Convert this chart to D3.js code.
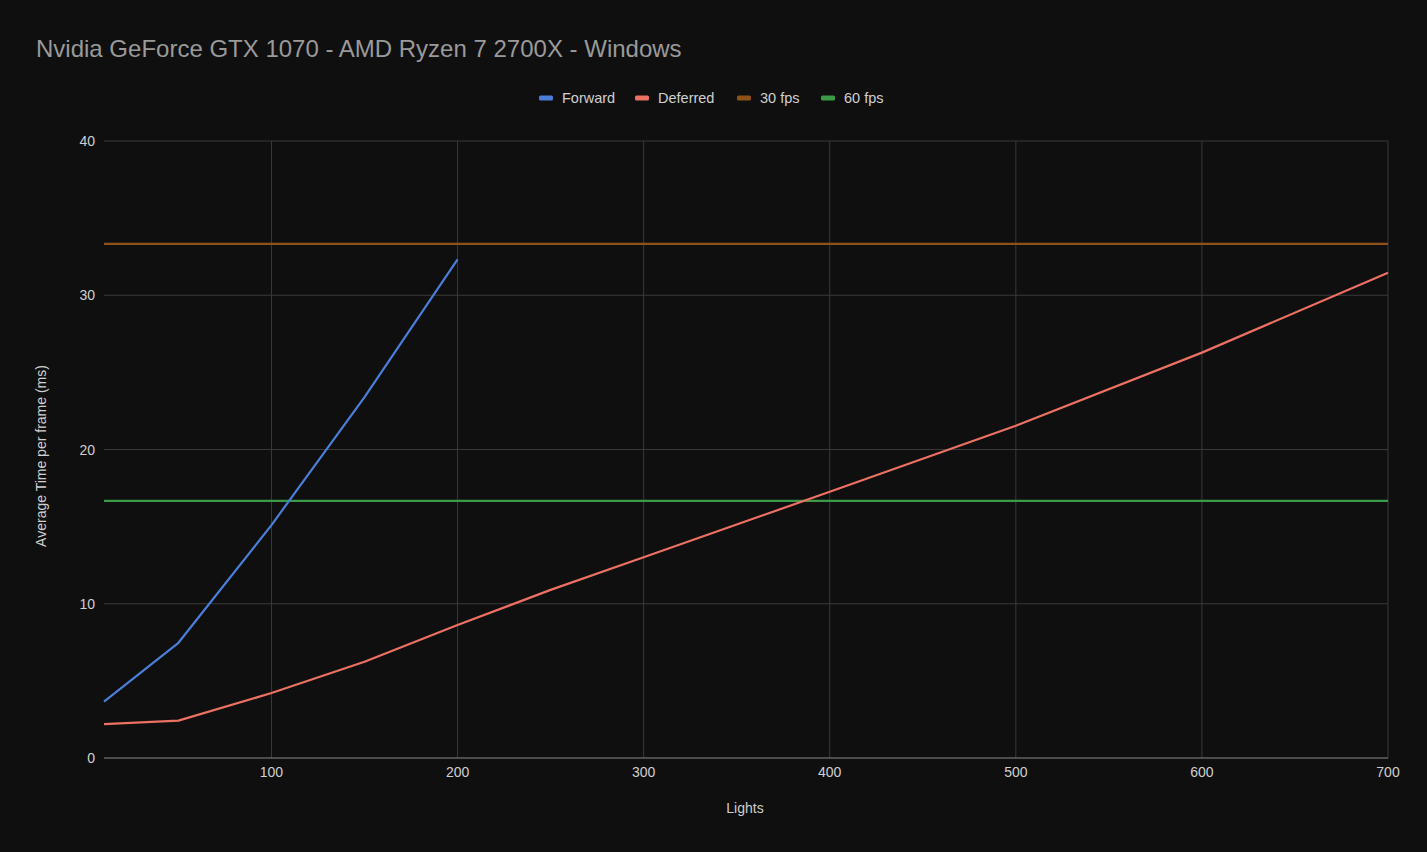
<!DOCTYPE html>
<html>
<head>
<meta charset="utf-8">
<script src="https://cdn.jsdelivr.net/npm/d3@7"></script>
<style>
  html, body { margin: 0; padding: 0; background: #0f0f0f; }
  svg { display: block; font-family: "Liberation Sans", Arial, sans-serif; }
</style>
</head>
<body>
<svg id="chart" width="1427" height="852"></svg>
<script>
// ── 데이터 ──────────────────────────────────────────────
const TITLE = 'Nvidia GeForce GTX 1070 - AMD Ryzen 7 2700X - Windows';
const forwardX   = [10, 50, 100, 150, 200];
const forwardY   = [3.65, 7.47, 15.1, 23.4, 32.33];
const deferredX  = [10, 50, 100, 150, 200, 250, 300, 400, 500, 600, 700];
const deferredY  = [2.2, 2.42, 4.21, 6.24, 8.62, 10.9, 13.01, 17.26, 21.54, 26.28, 31.46];
const fps30 = 33.33;
const fps60 = 16.67;
const xTicks = [100, 200, 300, 400, 500, 600, 700];
const yTicks = [0, 10, 20, 30, 40];

const series = [
  { name: 'Forward',  color: '#4a7fd9', xs: forwardX,  ys: forwardY },
  { name: 'Deferred', color: '#ec7163', xs: deferredX, ys: deferredY },
  { name: '30 fps',   color: '#8e5219', xs: [10, 700], ys: [fps30, fps30] },
  { name: '60 fps',   color: '#3b9a48', xs: [10, 700], ys: [fps60, fps60] },
];

// ── 레이아웃 ────────────────────────────────────────────
const M = { left: 104, right: 1388, top: 141, bottom: 758 };
const svg = d3.select('#chart');

const x = d3.scaleLinear().domain([10, 700]).range([M.left, M.right]);
const y = d3.scaleLinear().domain([0, 40]).range([M.bottom, M.top]);

// 제목
svg.append('text')
  .attr('x', 36).attr('y', 57)
  .attr('fill', '#9a9a9a')
  .attr('font-size', 24)
  .text(TITLE);

// 격자
const grid = svg.append('g');
grid.selectAll('line.h')
  .data(yTicks.filter(d => d > 0))
  .join('line')
  .attr('x1', M.left).attr('x2', M.right)
  .attr('y1', d => y(d)).attr('y2', d => y(d))
  .attr('stroke', '#3a3a3a').attr('stroke-width', 1);
grid.selectAll('line.v')
  .data(xTicks)
  .join('line')
  .attr('x1', d => x(d)).attr('x2', d => x(d))
  .attr('y1', M.top).attr('y2', M.bottom)
  .attr('stroke', '#3a3a3a').attr('stroke-width', 1);

// 기준선 (0)
svg.append('line')
  .attr('x1', M.left).attr('x2', M.right)
  .attr('y1', y(0)).attr('y2', y(0))
  .attr('stroke', '#8a8a8a').attr('stroke-width', 1.2);

// 축 라벨
svg.append('g').selectAll('text')
  .data(yTicks)
  .join('text')
  .attr('x', M.left - 9).attr('y', d => y(d) + 5)
  .attr('text-anchor', 'end')
  .attr('fill', '#d0d0d0').attr('font-size', 14)
  .text(d => d);

svg.append('g').selectAll('text')
  .data(xTicks)
  .join('text')
  .attr('x', d => x(d)).attr('y', M.bottom + 19)
  .attr('text-anchor', 'middle')
  .attr('fill', '#d0d0d0').attr('font-size', 14)
  .text(d => d);

svg.append('text')
  .attr('x', 745).attr('y', 813)
  .attr('text-anchor', 'middle')
  .attr('fill', '#d0d0d0').attr('font-size', 14)
  .text('Lights');

svg.append('text')
  .attr('transform', 'translate(46, 456) rotate(-90)')
  .attr('text-anchor', 'middle')
  .attr('fill', '#d0d0d0').attr('font-size', 14)
  .text('Average Time per frame (ms)');

// 시리즈 (기준선 먼저, 데이터 선은 위에)
const line = d3.line().x(d => x(d[0])).y(d => y(d[1]));
[series[2], series[3], series[0], series[1]].forEach(s => {
  svg.append('path')
    .datum(s.xs.map((v, i) => [v, s.ys[i]]))
    .attr('d', line)
    .attr('fill', 'none')
    .attr('stroke', s.color)
    .attr('stroke-width', 2.2)
    .attr('stroke-linejoin', 'round');
});

// 범례
const legendPos = [539, 635, 737, 821];
const legend = svg.append('g');
series.forEach((s, i) => {
  const lg = legend.append('g').attr('transform', `translate(${legendPos[i]}, 98)`);
  lg.append('rect')
    .attr('x', 0).attr('y', -2.5)
    .attr('width', 14).attr('height', 5).attr('rx', 1.5)
    .attr('fill', s.color);
  lg.append('text')
    .attr('x', 23).attr('y', 5)
    .attr('fill', '#d0d0d0').attr('font-size', 14.5)
    .text(s.name);
});
</script>
</body>
</html>
